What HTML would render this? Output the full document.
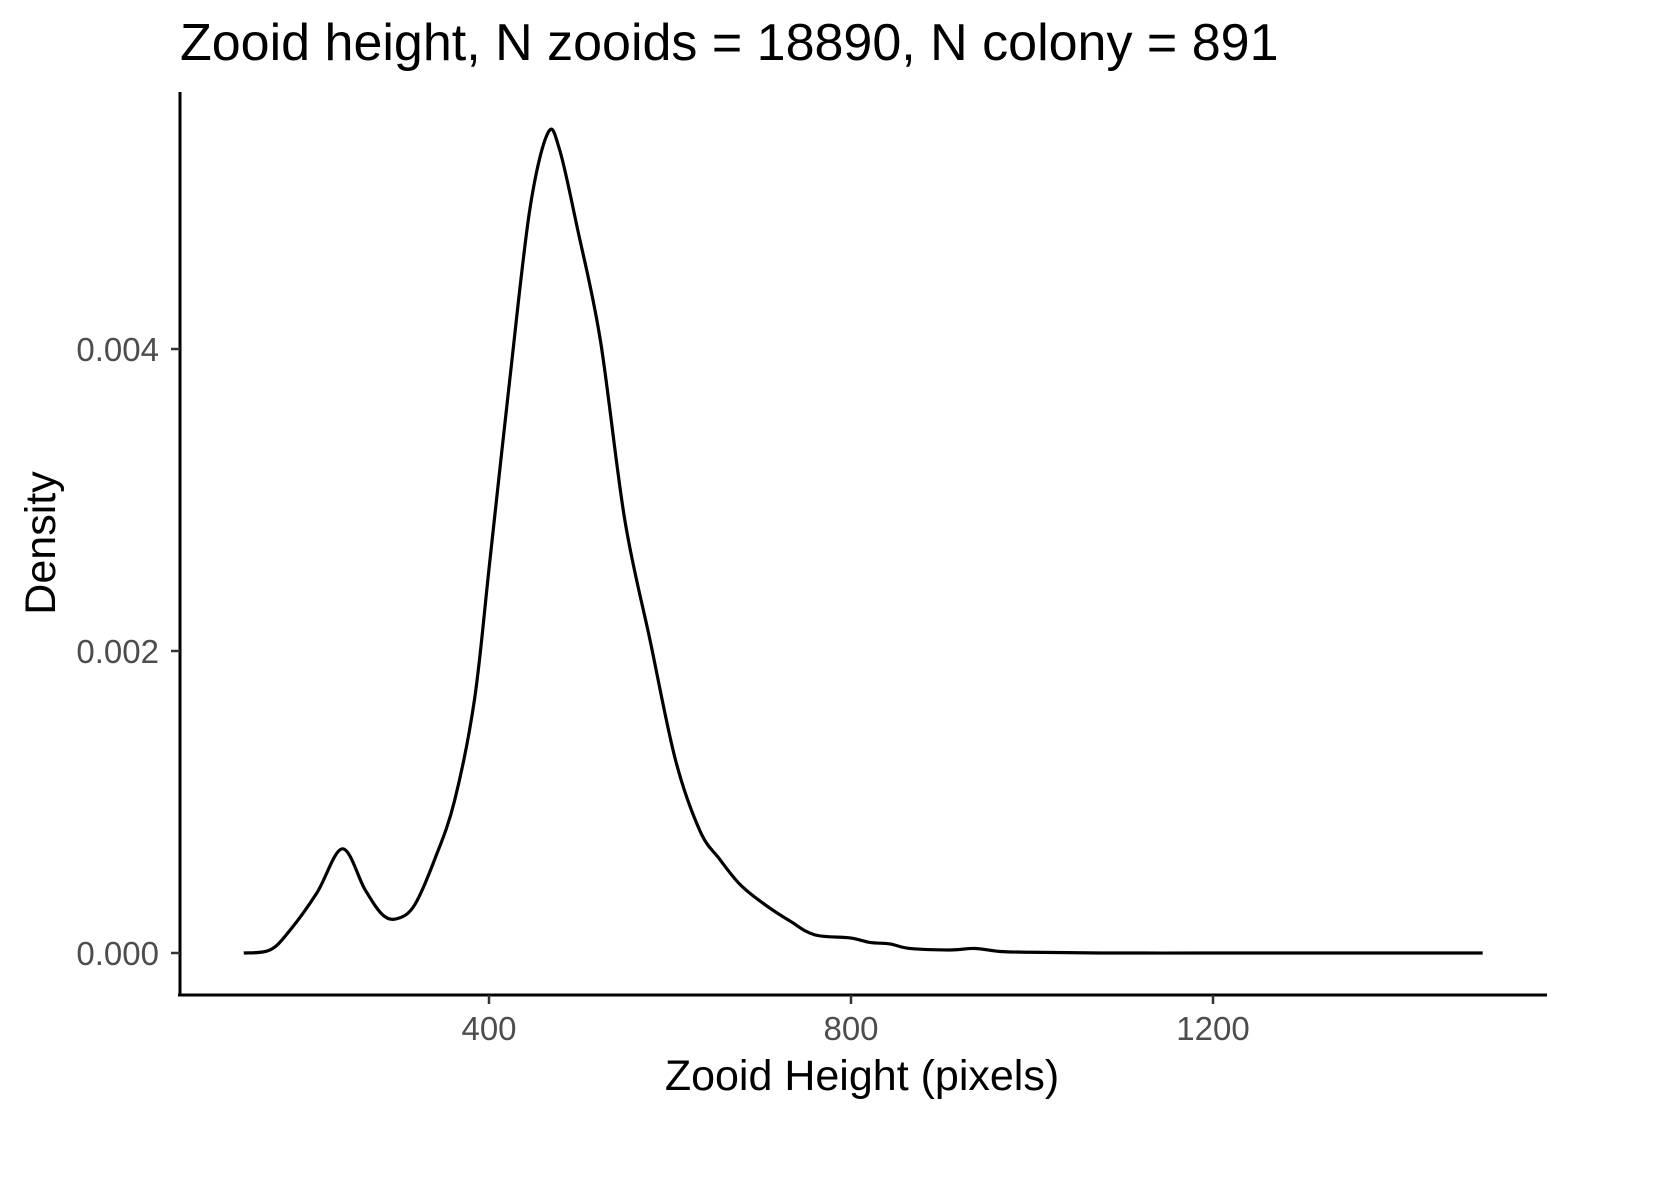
<!DOCTYPE html>
<html><head><meta charset="utf-8"><style>
html,body{margin:0;padding:0;background:#fff;}
svg{display:block;font-family:"Liberation Sans",Arial,sans-serif;}
</style></head><body>
<svg id="chart" width="1653" height="1181" viewBox="0 0 1653 1181">
<rect width="1653" height="1181" fill="#fff"/>
<text x="180" y="60" font-size="52" fill="#000">Zooid height, N zooids = 18890, N colony = 891</text>
<g id="axes"></g>
<path id="curve" fill="none" stroke="#000" stroke-width="3.2"/>
<text x="862" y="1090" font-size="43" text-anchor="middle">Zooid Height (pixels)</text>
<text transform="translate(55,543) rotate(-90)" font-size="43" text-anchor="middle">Density</text>
</svg>
<script>
const xValues=[129,158,180,210,238,263,283,300,318,340,362,384,401,423,445,465,478,498,523,550,578,606,633,655,678,705,733,760,799,821,843,865,909,937,965,1000,1075,1200,1300,1400,1498];
const densityValues=[0,0.00002,0.00015,0.0004,0.00069,0.00042,0.00025,0.00023,0.00032,0.00062,0.00101,0.00168,0.0026,0.0038,0.00492,0.00543,0.00532,0.00479,0.00406,0.00287,0.00207,0.00128,0.00081,0.00062,0.00045,0.00032,0.00021,0.00012,0.0001,0.00007,0.00006,0.00003,0.00002,0.00003,0.00001,0.000005,0,0,0,0,0];
const xTicks=[400,800,1200];
const yTicks=[0,0.002,0.004];
const yTickLabels=["0.000","0.002","0.004"];
const X=v=>127+(v)*0.905;
const Y=v=>953-v*151000;
const ns="http://www.w3.org/2000/svg";
const axes=document.getElementById('axes');
function mk(tag,attrs,parent){const e=document.createElementNS(ns,tag);for(const k in attrs)e.setAttribute(k,attrs[k]);(parent||axes).appendChild(e);return e;}
const yl=mk('line',{x1:180,y1:92,x2:180,y2:996,stroke:'#000','stroke-width':3});


const xl=mk('line',{x1:178,y1:995,x2:1547,y2:995,stroke:'#000','stroke-width':3});


xTicks.forEach(t=>{
 const l=mk('line',{x1:X(t),x2:X(t),y1:995,y2:1004,stroke:'#333','stroke-width':2.5});
 
 
 const tx=mk('text',{x:X(t),y:1040,'font-size':33,fill:'#4d4d4d','text-anchor':'middle'});
 tx.textContent=t;
 
 
});
yTicks.forEach((t,i)=>{
 const l=mk('line',{x1:171,x2:180,y1:Y(t),y2:Y(t),stroke:'#333','stroke-width':2.5});
 
 
 const tx=mk('text',{x:159,y:Y(t)+12,'font-size':33,fill:'#4d4d4d','text-anchor':'end'});
 tx.textContent=yTickLabels[i];
 
 
});
const pts=xValues.map((v,i)=>[X(v),Y(densityValues[i])]);
let d='M'+pts[0][0]+','+pts[0][1];
for(let i=0;i<pts.length-1;i++){
 const p0=pts[Math.max(0,i-1)],p1=pts[i],p2=pts[i+1],p3=pts[Math.min(pts.length-1,i+2)];
 const c1=[p1[0]+(p2[0]-p0[0])/6,p1[1]+(p2[1]-p0[1])/6];
 const c2=[p2[0]-(p3[0]-p1[0])/6,p2[1]-(p3[1]-p1[1])/6];
 d+=`C${c1[0]},${c1[1]} ${c2[0]},${c2[1]} ${p2[0]},${p2[1]}`;
}
document.getElementById('curve').setAttribute('d',d);
</script>
</body></html>
